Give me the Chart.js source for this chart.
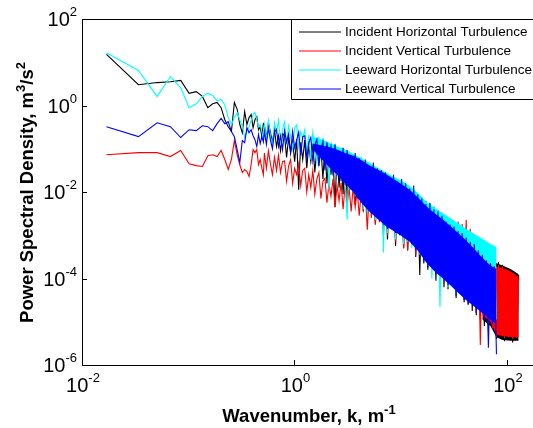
<!DOCTYPE html>
<html><head><meta charset="utf-8">
<script src="https://cdn.jsdelivr.net/npm/chart.js@4.4.0/dist/chart.umd.min.js"></script>
<style>html,body{margin:0;padding:0;overflow:hidden;background:#fff}#wrap{width:545px;height:428px}</style>
</head><body><div id="wrap"><canvas id="c" width="545" height="428"></canvas></div>
<script>
// Wavenumber grid: first 30 individual low-k samples (k, 1/m), then log10(k) of the dense part
const kLow = [0.017,0.034,0.051,0.068,0.085,0.102,0.119,0.136,0.153,0.170,0.187,0.204,0.221,0.238,0.255,0.272,0.289,0.306,0.323,0.340,0.357,0.374,0.391,0.408,0.425,0.442,0.459,0.476,0.493,0.510];
const logKBand = [-0.283,-0.264,-0.245,-0.226,-0.207,-0.188,-0.169,-0.150,-0.131,-0.112,-0.093,-0.074,-0.055,-0.036,-0.017,0.002,0.021,0.040,0.059,0.078,0.097,0.116,0.135,0.154,0.173,0.192,0.211,0.230,0.249,0.268,0.287,0.306,0.325,0.344,0.363,0.382,0.401,0.420,0.439,0.458,0.477,0.496,0.515,0.534,0.553,0.572,0.591,0.610,0.629,0.648,0.667,0.686,0.705,0.724,0.743,0.762,0.781,0.800,0.819,0.838,0.857,0.876,0.895,0.914,0.933,0.952,0.971,0.990,1.009,1.028,1.047,1.066,1.085,1.104,1.123,1.142,1.161,1.180,1.199,1.218,1.237,1.256,1.275,1.294,1.313,1.332,1.351,1.370,1.389,1.408,1.427,1.446,1.465,1.484,1.503,1.522,1.541,1.560,1.579,1.598,1.617,1.636,1.655,1.674,1.693,1.712,1.731,1.750,1.769,1.788,1.807,1.826,1.845,1.864,1.883,1.902,1.921,1.940,1.959,1.978,1.997,2.016,2.035,2.054,2.073,2.092,2.111];
// log10(k) where the dense part of each spectrum reads as a solid band (envelope of the scatter)
const logKEnv = [0.173,0.249,0.325,0.401,0.477,0.553,0.629,0.705,0.781,0.857,0.933,1.009,1.085,1.161,1.237,1.313,1.389,1.465,1.541,1.617,1.693,1.769,1.845,1.902,1.959,2.035,2.111];

const seriesNames = ["Incident Horizontal Turbulence","Incident Vertical Turbulence","Leeward Horizontal Turbulence","Leeward Vertical Turbulence"];
const seriesColors = ["#000000","#ff0000","#00ffff","#0000ff"];

// PSD values as log10(m^3/s^2)
const incHorLow = [1.18,0.48,0.53,0.55,0.58,0.28,0.32,0.21,-0.05,0.04,0.07,-0.05,-0.33,-0.49,-0.60,0.07,-0.09,-0.44,-0.63,-0.14,-0.44,-0.28,-0.21,-0.51,-0.33,-0.26,-0.56,-0.49,-0.72,-0.42];
const incHorBand = [-0.45,-0.75,-0.40,-0.62,-0.85,-0.55,-0.95,-0.70,-1.05,-0.65,
-0.70,-1.20,-0.75,-1.10,-0.82,-1.30,-0.78,-1.95,-0.85,-1.25,
-0.80,-1.45,-0.92,-1.30,-0.88,-1.55,-1.00,-1.35,-0.95,-1.70,
-0.92,-1.80,-1.05,-1.60,-1.10,-2.35,-1.08,-1.90,-1.15,-2.05,
-1.15,-2.15,-1.25,-1.95,-1.30,-2.30,-1.35,-2.10,-1.40,-2.45,
-1.38,-2.50,-1.45,-2.30,-1.55,-2.75,-1.50,-2.60,-1.62,-3.00,
-1.62,-3.10,-1.70,-2.85,-1.75,-3.25,-1.78,-3.00,-1.85,-3.30,
-1.85,-3.35,-1.95,-3.15,-2.00,-3.50,-2.05,-3.92,-2.12,-3.65,
-2.20,-3.80,-2.28,-3.60,-2.35,-4.05,-2.42,-3.90,-2.48,-4.20,
-2.55,-4.25,-2.62,-4.10,-2.68,-4.45,-2.75,-4.35,-2.80,-4.55,
-2.88,-4.60,-2.95,-4.75,-3.05,-4.85,-3.15,-4.95,-3.25,-5.10,
-3.35,-5.20,-3.42,-5.05,-3.55,-5.40,-3.62,-5.35,-3.68,-5.45,
-3.76,-5.40,-3.80,-5.48,-3.86,-5.42,-3.92];
const incHorEnvTop = [-3.35,-3.50,-3.65,-3.70,-3.78,-3.90];
const incHorEnvBot = [-4.95,-5.10,-5.36,-5.42,-5.44,-5.44];

const incVerLow = [-1.14,-1.09,-1.09,-1.18,-1.04,-1.35,-1.39,-1.41,-1.16,-1.14,-1.18,-1.04,-1.25,-1.48,-1.25,-0.81,-1.14,-1.37,-1.55,-1.48,-1.53,-1.64,-1.37,-1.02,-1.09,-1.02,-1.37,-1.25,-1.44,-1.60];
const incVerBand = [-1.10,-1.45,-1.05,-1.35,-1.60,-1.20,-1.50,-1.15,-1.55,-1.30,
-1.28,-1.75,-1.40,-1.25,-1.80,-1.45,-1.60,-1.35,-1.85,-1.50,
-1.45,-2.00,-1.60,-1.90,-1.50,-2.05,-1.70,-1.55,-2.15,-1.75,
-1.68,-2.25,-1.80,-2.10,-1.70,-2.35,-1.85,-2.20,-1.78,-2.40,
-1.85,-2.30,-1.90,-2.45,-1.88,-2.35,-1.95,-2.55,-2.00,-2.40,
-2.00,-2.87,-1.98,-2.60,-2.05,-2.75,-2.02,-2.70,-2.10,-2.90,
-2.08,-3.00,-2.15,-2.85,-2.10,-3.15,-2.20,-2.95,-2.15,-3.30,
-2.20,-3.35,-2.25,-3.10,-2.30,-3.45,-2.32,-3.30,-2.40,-3.55,
-2.42,-3.70,-2.48,-3.50,-2.52,-3.85,-2.55,-3.75,-2.60,-4.05,
-2.65,-4.15,-2.70,-3.95,-2.72,-4.35,-2.68,-4.20,-2.74,-4.50,
-2.64,-4.60,-2.85,-4.45,-3.00,-4.80,-3.10,-5.54,-3.20,-4.95,
-3.35,-5.05,-3.45,-5.15,-3.60,-5.35,-3.68,-5.30,-3.72,-5.38,
-3.80,-5.35,-3.85,-5.40,-3.92,-5.38,-3.99];
const incVerEnvTop = [-3.40,-3.55,-3.72,-3.76,-3.83,-3.96];
const incVerEnvBot = [-4.85,-5.00,-5.30,-5.33,-5.35,-5.35];

const leeHorLow = [1.22,0.81,0.21,0.67,0.41,-0.05,0.04,0.21,0.28,0.23,0.11,0.14,0.02,-0.28,-0.44,-0.28,-0.17,-0.33,-0.49,-0.74,-0.60,-0.49,-0.35,-0.21,-0.16,-0.33,-0.49,-0.44,-0.60,-0.79];
const leeHorBand = [-0.45,-0.80,-0.36,-0.70,-0.95,-0.40,-0.62,-0.34,-0.85,-0.55,
-0.38,-0.90,-0.48,-0.72,-1.00,-0.52,-0.45,-0.95,-0.60,-0.75,
-0.56,-1.10,-0.68,-1.25,-0.62,-0.95,-1.30,-0.72,-1.15,-0.80,
-1.45,-0.82,-1.95,-0.90,-1.40,-0.88,-1.60,-1.00,-1.50,-0.98,
-1.70,-2.64,-1.05,-1.85,-1.12,-2.10,-1.20,-1.95,-1.18,-2.40,
-1.28,-2.50,-1.35,-2.20,-1.42,-2.65,-1.45,-2.45,-1.50,-3.40,
-1.55,-2.95,-1.62,-2.70,-1.68,-3.10,-1.72,-2.90,-1.80,-3.20,
-1.80,-3.15,-1.95,-3.30,-2.00,-3.05,-2.12,-3.45,-2.20,-3.55,
-2.30,-3.70,-2.35,-4.00,-2.40,-3.85,-2.48,-4.66,-2.52,-4.05,
-2.58,-4.20,-2.66,-4.10,-2.72,-4.35,-2.80,-4.30,-2.86,-4.45,
-2.92,-4.40,-2.98,-4.60,-3.05,-4.55,-3.10,-4.70,-3.15,-4.75,
-3.20,-4.80,-3.25,-4.90,-3.30,-4.95];
const leeHorEnvTop = [-0.72,-0.78,-0.86,-0.95,-1.02,-1.12,-1.22,-1.32,-1.44,-1.54,-1.65,-1.74,-1.86,-2.02,-2.22,-2.35,-2.48,-2.60,-2.72,-2.85,-2.97,-3.08,-3.20,-3.27];
const leeHorEnvBot = [-0.86,-1.00,-1.20,-1.45,-1.70,-1.90,-2.10,-2.30,-2.50,-2.70,-2.80,-2.95,-3.05,-3.25,-3.50,-3.65,-3.80,-3.95,-4.10,-4.25,-4.40,-4.55,-4.70,-4.80];

const leeVerLow = [-0.49,-0.72,-0.40,-0.49,-0.74,-0.56,-0.58,-0.47,-0.49,-0.58,-0.42,-0.30,-0.42,-0.37,-0.60,-0.72,-1.02,-1.32,-0.81,-0.86,-0.51,-0.63,-0.56,-0.70,-0.79,-0.95,-0.67,-0.88,-0.72,-0.84];
const leeVerBand = [-0.60,-0.90,-0.52,-0.80,-1.00,-0.62,-0.55,-0.95,-0.70,-1.02,
-0.58,-0.85,-0.66,-1.08,-0.60,-0.98,-0.80,-0.62,-1.15,-0.72,
-0.70,-1.22,-0.86,-0.74,-1.28,-0.92,-0.78,-1.40,-1.02,-0.83,
-1.50,-0.85,-1.25,-0.95,-1.62,-0.90,-1.40,-1.05,-1.75,-0.98,
-1.85,-1.03,-1.60,-1.15,-1.95,-1.10,-2.15,-1.22,-1.80,-2.30,
-1.25,-2.40,-1.40,-2.20,-1.32,-2.50,-1.45,-2.35,-1.50,-2.75,
-1.55,-2.85,-1.65,-2.60,-1.60,-2.95,-1.75,-2.80,-1.70,-3.05,
-1.80,-3.00,-1.92,-3.20,-1.85,-3.35,-2.05,-3.25,-2.15,-3.60,
-2.28,-3.75,-2.25,-3.55,-2.40,-3.90,-2.45,-3.80,-2.55,-4.05,
-2.68,-4.15,-2.75,-4.00,-2.80,-4.40,-2.90,-4.25,-2.95,-4.50,
-3.05,-4.60,-3.15,-4.45,-3.20,-4.80,-3.35,-4.70,-3.45,-4.95,
-3.58,-5.60,-3.65,-5.05,-3.72,-5.75];
const leeVerEnvTop = [-0.88,-0.92,-0.96,-1.02,-1.10,-1.16,-1.26,-1.38,-1.48,-1.58,-1.70,-1.82,-1.95,-2.12,-2.32,-2.48,-2.62,-2.78,-2.95,-3.12,-3.32,-3.52,-3.70,-3.78];
const leeVerEnvBot = [-1.02,-1.22,-1.42,-1.60,-1.80,-2.00,-2.25,-2.45,-2.62,-2.78,-2.90,-3.02,-3.15,-3.35,-3.62,-3.82,-3.98,-4.15,-4.33,-4.50,-4.65,-4.80,-4.95,-5.05];

const xTickExps = [-2, 0, 2];
const yTickExps = [2, 0, -2, -4, -6];

function buildData(low, band) {
  const pts = [];
  low.forEach((v, i) => pts.push({x: kLow[i], y: Math.pow(10, v)}));
  band.forEach((v, i) => pts.push({x: Math.pow(10, logKBand[i]), y: Math.pow(10, v)}));
  return pts;
}
function buildEnv(arr, start) {
  return arr.map((v, i) => ({x: Math.pow(10, logKEnv[start + i]), y: Math.pow(10, v)}));
}

const allLow = [incHorLow, incVerLow, leeHorLow, leeVerLow];
const allBand = [incHorBand, incVerBand, leeHorBand, leeVerBand];
const allEnvTop = [incHorEnvTop, incVerEnvTop, leeHorEnvTop, leeVerEnvTop];
const allEnvBot = [incHorEnvBot, incVerEnvBot, leeHorEnvBot, leeVerEnvBot];
const envStart = [21, 21, 0, 0];
const drawOrder = [3, 2, 1, 0];

const datasets = [];
seriesNames.forEach((name, s) => {
  datasets.push({ label: name, data: buildData(allLow[s], allBand[s]), borderColor: seriesColors[s], borderWidth: 1.1, pointRadius: 0, tension: 0, fill: false, order: drawOrder[s] });
  datasets.push({ label: name + ' upper', data: buildEnv(allEnvTop[s], envStart[s]), borderColor: 'rgba(0,0,0,0)', borderWidth: 0, pointRadius: 0, tension: 0, fill: false, order: drawOrder[s] });
  datasets.push({ label: name + ' lower', data: buildEnv(allEnvBot[s], envStart[s]), borderColor: 'rgba(0,0,0,0)', backgroundColor: seriesColors[s], borderWidth: 0, pointRadius: 0, tension: 0, fill: '-1', order: drawOrder[s] });
});

const FONT = '"Liberation Sans", Arial, Helvetica, sans-serif';

function richWidth(ctx, parts) {
  let w = 0;
  parts.forEach(p => { ctx.font = p.font; w += ctx.measureText(p.t).width; });
  return w;
}
function drawRich(ctx, parts, x, y, align) {
  const w = richWidth(ctx, parts);
  let cx = align === 'center' ? x - w / 2 : (align === 'right' ? x - w : x);
  ctx.textAlign = 'left';
  ctx.textBaseline = 'alphabetic';
  parts.forEach(p => {
    ctx.font = p.font;
    ctx.fillText(p.t, cx, y + (p.dy || 0));
    cx += ctx.measureText(p.t).width;
  });
}

const decor = {
  id: 'decor',
  afterDraw(chart) {
    const ctx = chart.ctx, a = chart.chartArea;
    const xs = chart.scales.x, ys = chart.scales.y;
    ctx.save();
    ctx.fillStyle = '#000';
    ctx.strokeStyle = '#000';
    ctx.lineWidth = 1;
    ctx.beginPath();
    ctx.moveTo(a.left + 0.5, a.top + 0.5);
    ctx.lineTo(a.left + 0.5, a.bottom + 0.5);
    ctx.lineTo(chart.width, a.bottom + 0.5);
    ctx.moveTo(a.left + 0.5, a.top + 0.5);
    ctx.lineTo(chart.width, a.top + 0.5);
    ctx.stroke();
    ctx.beginPath();
    xTickExps.forEach(e => {
      const px = Math.round(xs.getPixelForValue(Math.pow(10, e))) + 0.5;
      ctx.moveTo(px, a.bottom); ctx.lineTo(px, a.bottom - 5);
      ctx.moveTo(px, a.top); ctx.lineTo(px, a.top + 5);
    });
    yTickExps.forEach(e => {
      const py = Math.round(ys.getPixelForValue(Math.pow(10, e))) + 0.5;
      ctx.moveTo(a.left, py); ctx.lineTo(a.left + 5, py);
    });
    ctx.stroke();
    xTickExps.forEach(e => {
      const px = xs.getPixelForValue(Math.pow(10, e));
      drawRich(ctx, [{t: '10', font: '20px ' + FONT}, {t: String(e), font: '13px ' + FONT, dy: -10}], px + 1, 392, 'center');
    });
    yTickExps.forEach(e => {
      const py = ys.getPixelForValue(Math.pow(10, e));
      drawRich(ctx, [{t: '10', font: '20px ' + FONT}, {t: String(e), font: '13px ' + FONT, dy: -10}], 77, py + 7, 'right');
    });
    drawRich(ctx, [{t: 'Wavenumber, k, m', font: 'bold 18.5px ' + FONT}, {t: '-1', font: 'bold 13px ' + FONT, dy: -8.5}], 309, 422, 'center');
    ctx.save();
    ctx.translate(33, 192.5);
    ctx.rotate(-Math.PI / 2);
    drawRich(ctx, [
      {t: 'Power Spectral Density, m', font: 'bold 18.5px ' + FONT},
      {t: '3', font: 'bold 13px ' + FONT, dy: -8.5},
      {t: '/s', font: 'bold 18.5px ' + FONT},
      {t: '2', font: 'bold 13px ' + FONT, dy: -8.5}
    ], 0, 0, 'center');
    ctx.restore();
    const lx = 291, ly = 19, lb = 99;
    ctx.fillStyle = '#fff';
    ctx.fillRect(lx + 0.5, ly + 0.5, chart.width, lb - ly);
    ctx.beginPath();
    ctx.moveTo(chart.width, ly + 0.5);
    ctx.lineTo(lx + 0.5, ly + 0.5);
    ctx.lineTo(lx + 0.5, lb + 0.5);
    ctx.lineTo(chart.width, lb + 0.5);
    ctx.strokeStyle = '#000';
    ctx.stroke();
    const rows = [32, 51, 70, 89];
    seriesNames.forEach((n, i) => {
      ctx.beginPath();
      ctx.strokeStyle = seriesColors[i];
      ctx.lineWidth = 1;
      ctx.moveTo(299, rows[i]); ctx.lineTo(341, rows[i]);
      ctx.stroke();
      ctx.fillStyle = '#000';
      ctx.font = '13.5px ' + FONT;
      ctx.textAlign = 'left';
      ctx.textBaseline = 'middle';
      ctx.fillText(n, 345, rows[i] + 0.5);
    });
    ctx.restore();
  }
};

new Chart(document.getElementById('c'), {
  type: 'line',
  data: { datasets },
  options: {
    responsive: false,
    animation: false,
    events: [],
    layout: { padding: { left: 82, top: 19, right: 10, bottom: 63 } },
    scales: {
      x: { type: 'logarithmic', min: 0.01, max: 184, display: false },
      y: { type: 'logarithmic', min: 1e-6, max: 100, display: false }
    },
    plugins: { legend: { display: false }, tooltip: { enabled: false }, filler: { propagate: false } }
  },
  plugins: [decor]
});
</script>
</body></html>
